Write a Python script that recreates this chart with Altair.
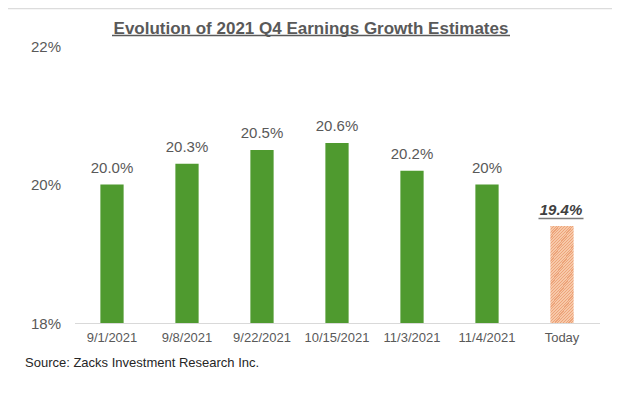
import altair as alt
import pandas as pd

categories = ["9/1/2021", "9/8/2021", "9/22/2021", "10/15/2021", "11/3/2021", "11/4/2021", "Today"]
values = [20.0, 20.3, 20.5, 20.6, 20.2, 20.0, 19.4]
labels = ["20.0%", "20.3%", "20.5%", "20.6%", "20.2%", "20%", "19.4%"]
kinds = ["past", "past", "past", "past", "past", "past", "today"]
y_ticks = [18, 20, 22]
y_base = 18

title_text = "Evolution of 2021 Q4 Earnings Growth Estimates"
source_text = "Source: Zacks Investment  Research Inc."

FONT = "Liberation Sans"
GREEN = "#4f9a2f"
GRAY = "#595959"

df = pd.DataFrame({"cat": categories, "val": values, "lab": labels, "kind": kinds})

# hatched orange fill
light, dark = "#f7c8a8", "#eda47a"
n = 42
stops = []
for i in range(n):
    a, b, c = i / n, (i + 0.4) / n, (i + 1) / n
    stops += [alt.GradientStop(offset=a, color=dark), alt.GradientStop(offset=b, color=dark),
              alt.GradientStop(offset=b, color=light), alt.GradientStop(offset=c, color=light)]
hatch = alt.Gradient(gradient="linear", stops=stops, x1=0, y1=0, x2=0.29, y2=1.175)

x_enc = alt.X("cat:N", sort=categories, title=None,
              scale=alt.Scale(paddingInner=0.69, paddingOuter=0.345),
              axis=alt.Axis(labelAngle=0, labelFontSize=13, labelColor=GRAY, labelFont=FONT,
                            ticks=False, labelPadding=8, domainColor="#d9d9d9", domainWidth=1.2))
y_enc = alt.Y("val:Q", title=None,
              scale=alt.Scale(domain=[18, 22], zero=False, nice=False),
              axis=alt.Axis(values=y_ticks, labelExpr="datum.value + '%'", grid=False, domain=False,
                            ticks=False, labelPadding=14, labelFontSize=15, labelColor=GRAY,
                            labelFont=FONT))

base = alt.Chart(df)

bars = base.transform_filter("datum.kind == 'past'").mark_bar(color=GREEN).encode(
    x=x_enc, y=y_enc, y2=alt.datum(y_base))
today_bar = base.transform_filter("datum.kind == 'today'").mark_bar(color=hatch).encode(
    x=x_enc, y=y_enc, y2=alt.datum(y_base))

vlabels = base.transform_filter("datum.kind == 'past'").mark_text(
    dy=-12, baseline="alphabetic", fontSize=15, color=GRAY, font=FONT
).encode(x=x_enc, y=y_enc, text="lab:N")

tlabel = base.transform_filter("datum.kind == 'today'").mark_text(
    dy=-11, dx=-1, baseline="alphabetic", fontSize=15, color="#404040", font=FONT,
    fontWeight="bold", fontStyle="italic"
).encode(x=x_enc, y=y_enc, text="lab:N")

tunder = base.transform_filter("datum.kind == 'today'").mark_tick(
    orient="horizontal", size=45, thickness=1.6, color="#404040", yOffset=-7.5, xOffset=-1
).encode(x=x_enc, y=y_enc)

one = alt.Data(values=[{"a": 1}])

title = alt.Chart(one).mark_text(
    text=title_text, fontSize=17, fontWeight="bold", color=GRAY, font=FONT,
    align="center", baseline="alphabetic"
).encode(x=alt.value(236.5), y=alt.value(-12.5))

title_line = alt.Chart(one).mark_rule(color=GRAY, strokeWidth=1.5).encode(
    x=alt.value(37.5), x2=alt.value(435.5), y=alt.value(-10.5))

source = alt.Chart(one).mark_text(
    text=source_text, fontSize=13, color="#262626", font=FONT, align="left", baseline="alphabetic"
).encode(x=alt.value(-49.5), y=alt.value(321))

top_line = alt.Chart(one).mark_rule(color="#dcdcdc", strokeWidth=1.5).encode(
    x=alt.value(-66.5), x2=alt.value(537.5), y=alt.value(-37.5))
bottom_line = alt.Chart(one).mark_rule(color="#dcdcdc", strokeWidth=1.5).encode(
    x=alt.value(-66.5), x2=alt.value(537.5), y=alt.value(350))

chart = alt.layer(
    top_line, bottom_line, bars, today_bar, vlabels, tlabel, tunder, title, title_line, source
).properties(
    width=525, height=277,
    autosize=alt.AutoSizeParams(type="none"),
    padding={"left": 66.5, "top": 38, "right": 12.5, "bottom": 72},
    background="white",
).configure_view(stroke=None)

chart.save("out.html", embed_options={"renderer": "svg", "actions": False})
